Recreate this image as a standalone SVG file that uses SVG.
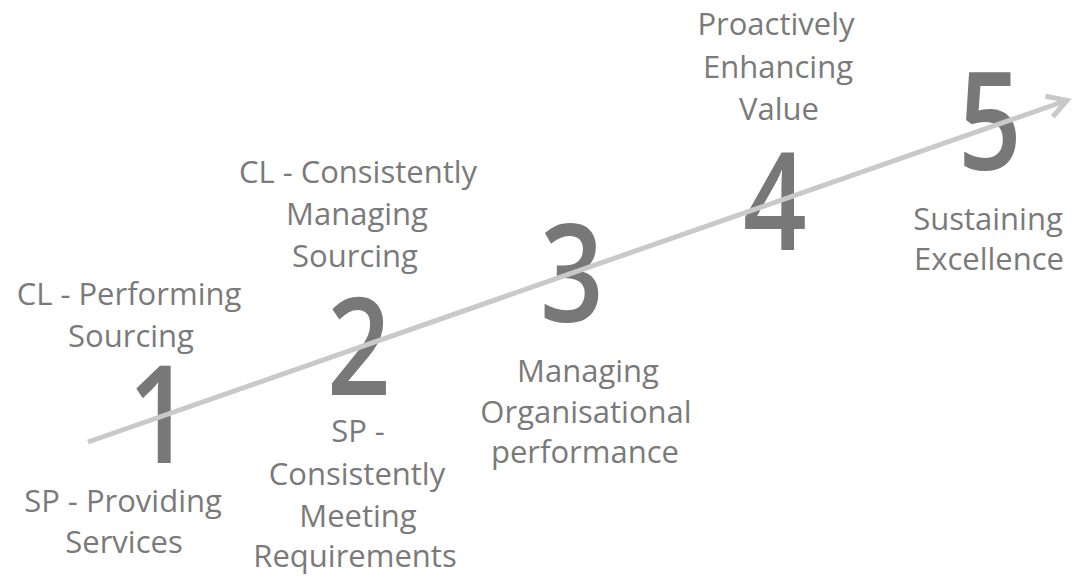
<svg xmlns="http://www.w3.org/2000/svg" width="1072" height="579" viewBox="0 0 1072 579">
<style>
.lbl{font-family:"Open Sans","Liberation Sans",sans-serif;font-size:31px;fill:#7a7a7a;text-anchor:middle}
.num{font-family:"Open Sans","Liberation Sans",sans-serif;font-size:136px;font-weight:600;fill:#787878;text-anchor:middle}
.conn{stroke:#c9c9c9;stroke-width:5;fill:none;stroke-linecap:butt}
</style>
<defs>
<marker id="chev" markerUnits="userSpaceOnUse" markerWidth="40" markerHeight="40" viewBox="-30 -20 40 40" refX="0" refY="0" orient="auto">
<path d="M -20 -11 L -1 0 L -20 11" fill="none" stroke="#c9c9c9" stroke-width="5" stroke-linejoin="miter"/>
</marker>
</defs>
<rect width="1072" height="579" fill="#ffffff"/>
<g id="level1">
<text class="num" x="0" y="463" transform="translate(160 0) scale(0.82 1)">1</text>
<text class="lbl" x="129" y="305">CL - Performing</text>
<text class="lbl" x="131" y="347">Sourcing</text>
<text class="lbl" x="123" y="512">SP - Providing</text>
<text class="lbl" x="124" y="553">Services</text>
</g>
<g id="level2">
<text class="num" x="0" y="395" transform="translate(359 0) scale(0.82 1)">2</text>
<text class="lbl" x="358" y="183">CL - Consistently</text>
<text class="lbl" x="357" y="225">Managing</text>
<text class="lbl" x="355" y="267">Sourcing</text>
<text class="lbl" x="358" y="442">SP -</text>
<text class="lbl" x="357" y="485">Consistently</text>
<text class="lbl" x="358" y="527">Meeting</text>
<text class="lbl" x="355" y="567">Requirements</text>
</g>
<g id="level3">
<text class="num" x="0" y="322" transform="translate(572 0) scale(0.82 1)">3</text>
<text class="lbl" x="588" y="382">Managing</text>
<text class="lbl" x="586" y="423">Organisational</text>
<text class="lbl" x="585" y="463">performance</text>
</g>
<g id="level4">
<text class="num" x="0" y="250" transform="translate(775 0) scale(0.82 1)">4</text>
<text class="lbl" x="776" y="35">Proactively</text>
<text class="lbl" x="778" y="78">Enhancing</text>
<text class="lbl" x="779" y="120">Value</text>
</g>
<g id="level5">
<text class="num" x="0" y="170" transform="translate(990 0) scale(0.82 1)">5</text>
<text class="lbl" x="988" y="230">Sustaining</text>
<text class="lbl" x="989" y="270">Excellence</text>
</g>
<g id="connectors">
<line class="conn" x1="88" y1="442" x2="1068" y2="100" marker-end="url(#chev)"/>
</g>
</svg>
